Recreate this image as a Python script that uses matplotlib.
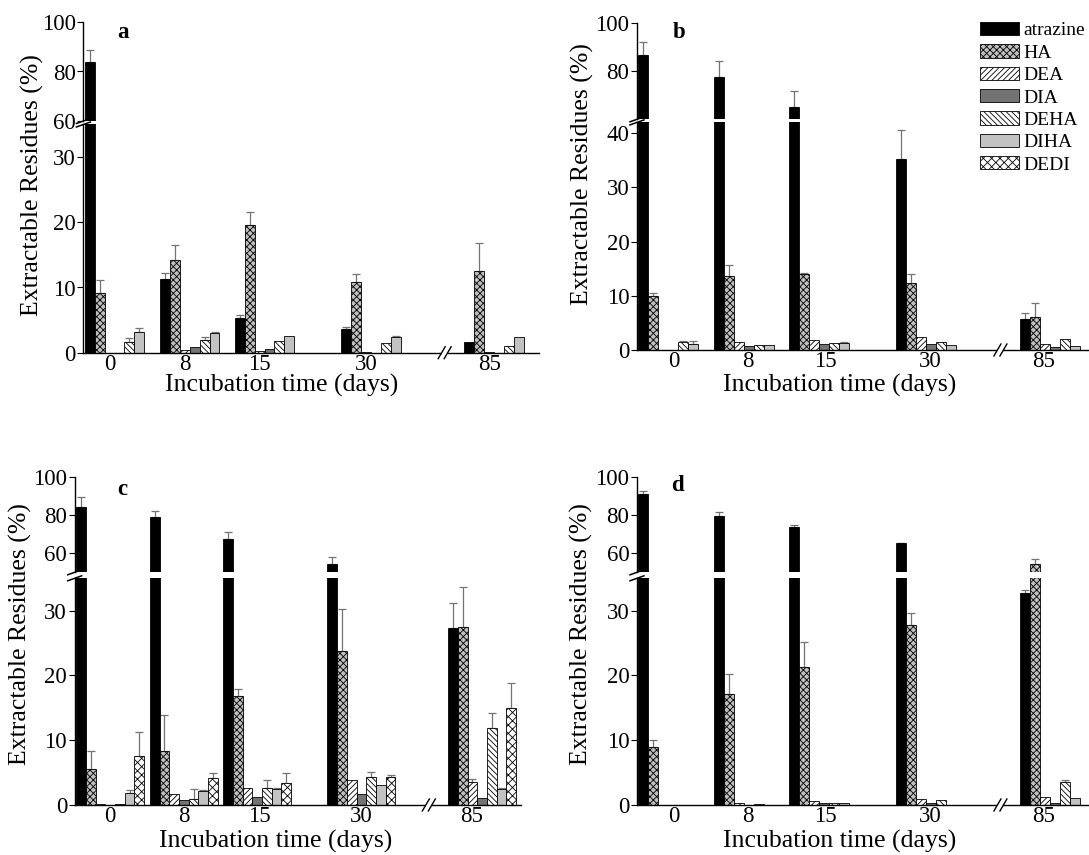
import matplotlib
matplotlib.use('Agg')
import matplotlib.pyplot as plt
from matplotlib.patches import Patch, Rectangle
from matplotlib.lines import Line2D
from matplotlib.transforms import IdentityTransform
import numpy as np

plt.rcParams['font.family'] = ['Liberation Serif', 'DejaVu Serif']
plt.rcParams['hatch.linewidth'] = 0.6
plt.rcParams['hatch.color'] = 'black'

# ---------------- data ----------------
days = ['0', '8', '15', '30', '85']
series = ['atrazine', 'HA', 'DEA', 'DIA', 'DEHA', 'DIHA', 'DEDI']

# panel a (rows: atrazine, HA, DEA, DIA, DEHA, DIHA)
a_values = [[84.0, 11.3, 5.3, 3.6, 1.7],
            [9.2, 14.25, 19.6, 10.8, 12.6],
            [0.0, 0.45, 0.3, 0.15, 0.05],
            [0.0, 0.8, 0.55, 0.0, 0.0],
            [1.7, 1.9, 1.8, 1.45, 1.1],
            [3.2, 3.0, 2.6, 2.45, 2.4]]
a_errors = [[4.8, 1.0, 0.5, 0.4, 0.0],
            [2.0, 2.3, 2.0, 1.3, 4.2],
            [0, 0, 0, 0, 0],
            [0, 0, 0, 0, 0],
            [0.5, 0.5, 0, 0, 0],
            [0.65, 0.25, 0, 0.1, 0]]

# panel b
b_values = [[86.6, 77.7, 65.0, 35.3, 5.7],
            [9.9, 13.7, 14.1, 12.3, 6.0],
            [0.0, 1.5, 1.85, 2.35, 1.05],
            [0.0, 0.8, 1.05, 1.05, 0.6],
            [1.45, 1.0, 1.2, 1.5, 2.0],
            [1.15, 1.0, 1.2, 0.9, 0.75]]
b_errors = [[5.5, 6.6, 6.9, 5.3, 1.1],
            [0.6, 2.0, 0.2, 1.7, 2.6],
            [0, 0, 0, 0, 0],
            [0, 0, 0, 0, 0],
            [0.15, 0, 0, 0, 0],
            [0.6, 0, 0.35, 0, 0]]

# panel c
c_values = [[84.2, 79.3, 67.4, 54.4, 27.3],
            [5.5, 8.4, 16.8, 23.7, 27.5],
            [0.15, 1.7, 2.6, 3.9, 3.6],
            [0.05, 0.8, 1.2, 1.7, 1.1],
            [0.1, 1.0, 2.6, 4.4, 11.9],
            [1.9, 2.1, 2.5, 3.1, 2.5],
            [7.6, 4.2, 3.4, 4.3, 14.9]]
c_errors = [[5.3, 3.2, 3.8, 3.8, 3.9],
            [2.8, 5.5, 1.1, 6.6, 6.2],
            [0, 0, 0, 0, 0.4],
            [0, 0, 0, 0, 0],
            [0, 1.4, 1.2, 0.7, 2.3],
            [0.4, 0.2, 0.2, 0, 0.2],
            [3.6, 0.8, 1.5, 0.4, 3.9]]

# panel d
d_values = [[91.2, 79.8, 73.7, 65.3, 32.8],
            [8.9, 17.2, 21.3, 27.8, 54.4],
            [0.0, 0.35, 0.6, 0.9, 1.3],
            [0.0, 0.0, 0.25, 0.35, 0.35],
            [0.0, 0.1, 0.35, 0.75, 3.6],
            [0.0, 0.0, 0.35, 0.0, 1.1]]
d_errors = [[1.8, 1.9, 1.2, 0.3, 0.4],
            [1.1, 3.1, 3.9, 1.8, 2.4],
            [0, 0, 0, 0, 0],
            [0, 0, 0, 0, 0],
            [0, 0, 0, 0, 0.25],
            [0, 0, 0, 0, 0]]

# ---------------- styles / layout ----------------
styles = {
    'atrazine': dict(fc='black', hatch=None),
    'HA': dict(fc='0.75', hatch='xxxxx'),
    'DEA': dict(fc='white', hatch='//////'),
    'DIA': dict(fc='0.45', hatch=None),
    'DEHA': dict(fc='white', hatch='\\\\\\\\\\\\'),
    'DIHA': dict(fc='0.76', hatch=None),
    'DEDI': dict(fc='white', hatch='xxxx'),
}

W, H = 1089, 855
group_pos = np.array([0.15, 7.75, 15.3, 26.05, 38.5])
XMAX = 46.0
XBREAK = 36.5

panels = [
    dict(name='a', vals=a_values, errs=a_errors, box=(83.4, 538.7, 22, 121, 124.5, 352.7),
         up=(60, 100), upt=[60, 80, 100], lo=(0, 35), lot=[0, 10, 20, 30],
         toff=[2.5, 2.5, 2.5, 2.5, 2.5], letter=(123, 33), ylab=(32, 185), xlab=(282, 385)),
    dict(name='b', vals=b_values, errs=b_errors, box=(637, 1095, 22.7, 119.3, 122.4, 350),
         up=(60, 100), upt=[80, 100], lo=(0, 42), lot=[0, 10, 20, 30, 40],
         toff=[3.5, 3.4, 3.6, 3.4, 2.3], letter=(679, 32), ylab=(582, 174), xlab=(840, 385)),
    dict(name='c', vals=c_values, errs=c_errors, box=(74.7, 521, 477.3, 572.3, 578.3, 805),
         up=(50, 100), upt=[60, 80, 100], lo=(0, 35), lot=[0, 10, 20, 30],
         toff=[3.5, 3.5, 3.7, 3.45, 2.4], letter=(122, 489), ylab=(20, 634), xlab=(276, 841)),
    dict(name='d', vals=d_values, errs=d_errors, box=(637, 1095, 477.3, 572.3, 578.3, 805),
         up=(50, 100), upt=[60, 80, 100], lo=(0, 35), lot=[0, 10, 20, 30],
         toff=[3.5, 3.4, 3.6, 3.4, 2.3], letter=(677, 485), ylab=(581, 634), xlab=(840, 841)),
]

fig = plt.figure(figsize=(W / 100, H / 100), dpi=100)

TICK_FS = 16.5
LAB_FS = 18.5


def add_ax(x0, x1, ytop, ybot):
    return fig.add_axes([x0 / W, 1 - ybot / H, (x1 - x0) / W, (ybot - ytop) / H])


for p in panels:
    x0, x1, yut, yub, ylt, ylb = p['box']
    ax_u = add_ax(x0, x1, yut, yub)
    ax_l = add_ax(x0, x1, ylt, ylb)
    for ax in (ax_u, ax_l):
        for i, (vals, errs) in enumerate(zip(p['vals'], p['errs'])):
            s = series[i]
            st = styles[s]
            xs = group_pos + i + 0.5
            vals = np.array(vals, dtype=float)
            errs = np.array(errs, dtype=float)
            ax.bar(xs, vals, width=1.0, color=st['fc'], edgecolor='black',
                   linewidth=0.6, hatch=st['hatch'], zorder=2)
            m = errs > 0
            if m.any():
                ax.errorbar(xs[m], vals[m], yerr=[np.zeros(m.sum()), errs[m]], fmt='none',
                            ecolor='0.45', elinewidth=0.9, capsize=2.6, capthick=0.9, zorder=1)
        ax.set_xlim(0, XMAX)
        for side in ('top', 'right'):
            ax.spines[side].set_visible(False)
        ax.spines['left'].set_linewidth(1.0)
        ax.spines['bottom'].set_linewidth(1.0)
        ax.tick_params(axis='y', direction='out', length=4, width=0.8,
                       labelsize=TICK_FS, pad=1.5)
        ax.patch.set_alpha(0)
    ax_u.set_ylim(*p['up'])
    ax_u.set_yticks(p['upt'])
    ax_u.spines['bottom'].set_visible(False)
    ax_u.tick_params(axis='x', bottom=False, labelbottom=False)
    ax_l.set_ylim(*p['lo'])
    ax_l.set_yticks(p['lot'])
    ax_l.set_xticks(group_pos + np.array(p['toff']))
    ax_l.set_xticklabels(days)
    ax_l.tick_params(axis='x', length=0, labelsize=TICK_FS, pad=1)

    # panel letter and labels
    fig.text(p['letter'][0] / W, 1 - p['letter'][1] / H, p['name'], fontsize=16.5,
             fontweight='bold', ha='center', va='center')
    fig.text(p['ylab'][0] / W, 1 - p['ylab'][1] / H, 'Extractable Residues (%)',
             fontsize=LAB_FS, rotation=90, ha='center', va='center')
    fig.text(p['xlab'][0] / W, 1 - p['xlab'][1] / H, 'Incubation time (days)',
             fontsize=LAB_FS, ha='center', va='center')
    p['axes'] = (ax_u, ax_l)

fig.canvas.draw()

# break marks
for p in panels:
    ax_u, ax_l = p['axes']
    # y-axis break
    bx, byu = ax_u.transAxes.transform((0, 0))
    _, byl = ax_l.transAxes.transform((0, 1))
    for yy in (byu, byl):
        fig.add_artist(Line2D([bx - 7, bx + 7], [yy - 2.5, yy + 2.5], color='black',
                              lw=1.1, transform=IdentityTransform()))
    # x-axis break
    xd, yd = ax_l.transData.transform((XBREAK, 0))
    fig.add_artist(Rectangle((xd - 3, yd - 2), 6, 4, facecolor='white', edgecolor='none',
                             transform=IdentityTransform(), zorder=5))
    for cx in (xd - 3, xd + 3):
        fig.add_artist(Line2D([cx - 3.5, cx + 3.5], [yd - 6, yd + 6], color='black',
                              lw=1.0, transform=IdentityTransform(), zorder=6))

# legend (panel b)
handles = [Patch(facecolor=styles[s]['fc'], edgecolor='black', linewidth=0.6,
                 hatch=styles[s]['hatch']) for s in series]
fig.legend(handles=handles, labels=series, loc='upper left',
           bbox_to_anchor=(980 / W, 1 - 22 / H), frameon=False, fontsize=14,
           handlelength=2.0, handleheight=0.68, handletextpad=0.25,
           labelspacing=0.25, borderaxespad=0, borderpad=0)

fig.savefig('out.png', dpi=100)
